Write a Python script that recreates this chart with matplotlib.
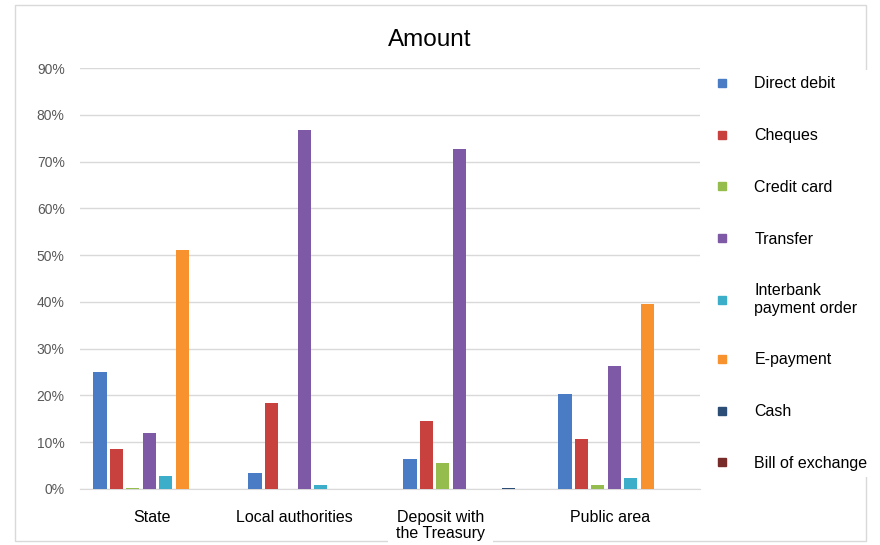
import matplotlib.pyplot as plt
import numpy as np
from matplotlib.lines import Line2D
from matplotlib.patches import Rectangle
from matplotlib.ticker import PercentFormatter
from matplotlib.transforms import ScaledTranslation

plt.rcParams['font.family'] = ['Liberation Sans', 'DejaVu Sans']

categories = ['State', 'Local authorities', 'Deposit with\nthe Treasury', 'Public area']
series_names = ['Direct debit', 'Cheques', 'Credit card', 'Transfer',
                'Interbank\npayment order', 'E-payment', 'Cash', 'Bill of exchange']

# share of the amount per payment method (fractions)
direct_debit = [0.250, 0.035, 0.065, 0.203]
cheques = [0.085, 0.184, 0.145, 0.106]
credit_card = [0.003, 0.000, 0.056, 0.008]
transfer = [0.120, 0.767, 0.727, 0.264]
interbank = [0.028, 0.008, 0.000, 0.023]
e_payment = [0.511, 0.000, 0.000, 0.395]
cash = [0.000, 0.000, 0.003, 0.000]
bill_of_exchange = [0.000, 0.000, 0.000, 0.000]

series = [direct_debit, cheques, credit_card, transfer,
          interbank, e_payment, cash, bill_of_exchange]
colors = ['#4a7cc6', '#c9413f', '#94bd4e', '#7e5aa6',
          '#3caec9', '#f7922f', '#2c4d75', '#772c2a']

fig = plt.figure(figsize=(8.8, 5.45), dpi=100)
ax = fig.add_axes([80 / 880, 56 / 545, 620 / 880, 421 / 545])

x = np.arange(len(categories))
step = 0.106
for j, (vals, col) in enumerate(zip(series, colors)):
    ax.bar(x + (j - 3.5) * step, vals, width=0.084, color=col, zorder=3)

ax.set_xlim(-0.5, 3.5)
ax.set_ylim(0, 0.9)
ax.set_yticks(np.arange(0, 0.91, 0.1))
ax.yaxis.set_major_formatter(PercentFormatter(1.0, decimals=0))
ax.grid(axis='y', color='#d9d9d9', linewidth=1, zorder=0)
for s in ['top', 'right', 'left']:
    ax.spines[s].set_visible(False)
ax.spines['bottom'].set_color('#d9d9d9')
ax.tick_params(axis='y', length=0, pad=11, labelsize=10, labelcolor='#595959')
ax.tick_params(axis='x', length=0, pad=15, labelsize=11.5)
ax.set_xticks(x)
ax.set_xticklabels(categories, linespacing=1.1)

# category labels sit a little left of the group centres
label_shift = [-5, -18, -27, -12]
for lbl, dx in zip(ax.get_xticklabels(), label_shift):
    lbl.set_transform(lbl.get_transform() + ScaledTranslation(dx / 100, 0, fig.dpi_scale_trans))
    lbl.set_bbox(dict(facecolor='white', edgecolor='none', pad=6))

# outer chart frame
fig.add_artist(Rectangle((15 / 880, 4 / 545), 851 / 880, 536 / 545,
                         transform=fig.transFigure, fill=False,
                         edgecolor='#d9d9d9', linewidth=1, zorder=0))

fig.text(430 / 880, 1 - 40 / 545, 'Amount', ha='center', va='center', fontsize=17.5)

handles = [Line2D([], [], marker='s', linestyle='none', markersize=6,
                  color=c) for c in colors]
leg = fig.legend(handles, series_names, loc='upper left',
                 bbox_to_anchor=(708 / 880, 1 - 70 / 545),
                 frameon=True, fontsize=11.5, labelspacing=2.3,
                 handlelength=1.0, handletextpad=1.5, borderpad=0.4,
                 borderaxespad=0)
leg.get_frame().set_edgecolor('none')
leg.get_frame().set_facecolor('white')
leg.get_frame().set_alpha(1)

fig.savefig('out.png', dpi=100)
